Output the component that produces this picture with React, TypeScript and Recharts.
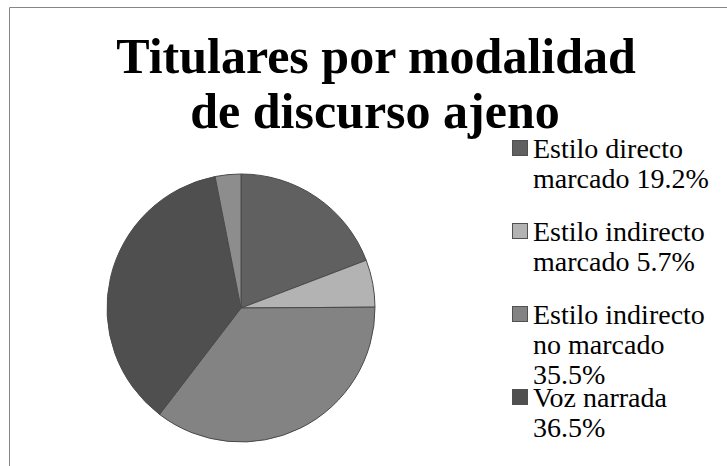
import React from 'react';
import { PieChart, Pie, Cell, Legend, Customized } from 'recharts';

const categories = [
  'Estilo directo marcado',
  'Estilo indirecto marcado',
  'Estilo indirecto no marcado',
  'Voz narrada',
  'Otros',
];
const values = [19.2, 5.7, 35.5, 36.5, 3.1];
const legendShown = [true, true, true, true, false];
const colors = ['#606060', '#b3b3b3', '#838383', '#4f4f4f', '#8d8d8d'];
const titleLines = ['Titulares por modalidad', 'de discurso ajeno'];

const data = categories.map((name, i) => ({
  name,
  value: values[i],
  label: `${name} ${values[i].toFixed(1)}%`,
}));

const W = 727;
const H = 466;
const SERIF = 'Liberation Serif, Tinos, Times New Roman, DejaVu Serif, serif';

const Frame = () => (
  <g>
    <line x1={9.5} y1={7.5} x2={W} y2={7.5} stroke="#868686" strokeWidth={1} />
    <line x1={9.5} y1={7.5} x2={9.5} y2={H} stroke="#868686" strokeWidth={1} />
    <text x={376} y={73} textAnchor="middle" style={{ fontFamily: SERIF, fontWeight: 'bold', fontSize: 50 }} fill="#000">
      {titleLines[0]}
    </text>
    <text x={375} y={128} textAnchor="middle" style={{ fontFamily: SERIF, fontWeight: 'bold', fontSize: 50 }} fill="#000">
      {titleLines[1]}
    </text>
  </g>
);

const renderLegend = () => (
  <div style={{ fontFamily: SERIF, fontSize: 28, lineHeight: '30px', color: '#000' }}>
    {data.map((d, i) =>
      legendShown[i] ? (
        <div key={d.name} style={{ position: 'relative', height: 83, width: 200 }}>
          <div
            style={{
              position: 'absolute',
              left: 0,
              top: 6,
              width: 14,
              height: 14,
              background: colors[i],
              border: '1px solid #505050',
            }}
          />
          <div style={{ position: 'absolute', left: 21, top: 0, width: 186 }}>{d.label}</div>
        </div>
      ) : null
    )}
  </div>
);

export default function App() {
  return (
    <div style={{ position: 'absolute', left: 0, top: 0, width: W, height: H, background: '#fff' }}>
      <PieChart width={W} height={H} margin={{ top: 0, right: 0, bottom: 0, left: 0 }}>
        <Customized component={Frame} />
        <Pie
          data={data}
          dataKey="value"
          nameKey="name"
          cx={241}
          cy={308}
          outerRadius={134}
          startAngle={90}
          endAngle={-270}
          stroke="#4a4a4a"
          strokeWidth={1}
          isAnimationActive={false}
        >
          {data.map((d, i) => (
            <Cell key={d.name} fill={colors[i]} />
          ))}
        </Pie>
        <Legend
          content={renderLegend}
          wrapperStyle={{ position: 'absolute', left: 512, top: 134, width: 215 }}
        />
      </PieChart>
    </div>
  );
}
